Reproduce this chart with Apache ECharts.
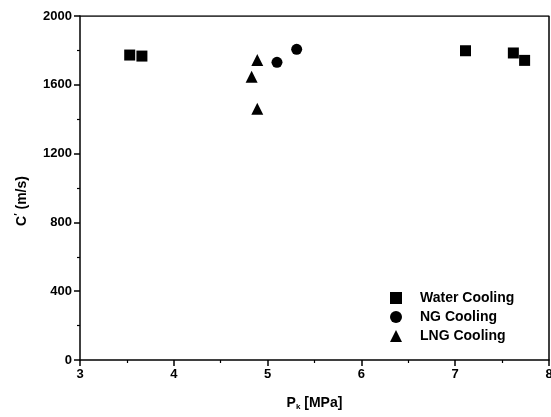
<!DOCTYPE html>
<html>
<head>
<meta charset="utf-8">
<script src="https://cdn.jsdelivr.net/npm/echarts@6/dist/echarts.min.js"></script>
<style>
  html, body { margin: 0; padding: 0; background: #fff; }
  #main { width: 551px; height: 417px; }
</style>
</head>
<body>
<div id="main"></div>
<script>
// data
var waterX = [3.53, 3.66, 7.11, 7.62, 7.74];
var waterY = [1773, 1767, 1798, 1785, 1742];
var ngX = [5.10, 5.31];
var ngY = [1731, 1806];
var lngX = [4.89, 4.83, 4.89];
var lngY = [1744, 1647, 1461];

function pairs(xs, ys) {
    var out = [];
    for (var i = 0; i < xs.length; i++) out.push([xs[i], ys[i]]);
    return out;
}

var font = 'Liberation Sans, Arial, sans-serif';
var myChart = echarts.init(document.getElementById('main'));
myChart.setOption({
    animation: false,
    grid: { left: 80, right: 2, top: 16, bottom: 57, containLabel: false, outerBoundsMode: 'none' },
    legend: {
        orient: 'vertical',
        left: 385,
        top: 286,
        itemWidth: 12,
        itemHeight: 12,
        itemGap: 5,
        textStyle: { fontFamily: font, fontSize: 14, fontWeight: 'bold', color: '#000', padding: [0, 0, 0, 13] },
        data: [
            { name: 'Water Cooling', icon: 'rect' },
            { name: 'NG Cooling', icon: 'circle' },
            { name: 'LNG Cooling', icon: 'triangle' }
        ]
    },
    xAxis: {
        type: 'value', min: 3, max: 8, interval: 1,
        name: '{a|P}{s|k}{a| [MPa]}',
        nameLocation: 'middle', nameGap: 35,
        nameTextStyle: {
            rich: {
                a: { fontFamily: font, fontSize: 14, fontWeight: 'bold', color: '#000' },
                s: { fontFamily: font, fontSize: 8, fontWeight: 'bold', color: '#000', verticalAlign: 'bottom', padding: [8, 0, 0, 0] }
            }
        },
        axisLine: { show: true, onZero: false, lineStyle: { color: '#000', width: 1.5 } },
        axisTick: { show: true, inside: false, length: 6, lineStyle: { color: '#000', width: 1.5 } },
        minorTick: { show: true, splitNumber: 2, length: 3, lineStyle: { color: '#000', width: 1.2 } },
        axisLabel: { fontFamily: font, fontSize: 13, fontWeight: 'bold', color: '#000', margin: 8 },
        splitLine: { show: false }
    },
    yAxis: {
        type: 'value', min: 0, max: 2000, interval: 400,
        name: '{a|C}{p|\u2032}{a| (m/s)}',
        nameLocation: 'middle', nameGap: 50, nameRotate: 90,
        nameTextStyle: {
            padding: [0, 26, 0, 0],
            rich: {
                a: { fontFamily: font, fontSize: 14, fontWeight: 'bold', color: '#000' },
                p: { fontFamily: font, fontSize: 10, fontWeight: 'bold', color: '#000', padding: [0, 0, 6, 0] }
            }
        },
        axisLine: { show: true, onZero: false, lineStyle: { color: '#000', width: 1.5 } },
        axisTick: { show: true, inside: false, length: 6, lineStyle: { color: '#000', width: 1.5 } },
        minorTick: { show: true, splitNumber: 2, length: 3, lineStyle: { color: '#000', width: 1.2 } },
        axisLabel: {
            fontFamily: font, fontSize: 13, fontWeight: 'bold', color: '#000', margin: 8,
            formatter: function (v) { return String(v); }
        },
        splitLine: { show: false }
    },
    series: [
        {
            name: 'Water Cooling', type: 'scatter', symbol: 'rect', symbolSize: 11,
            itemStyle: { color: '#000', opacity: 1 }, data: pairs(waterX, waterY)
        },
        {
            name: 'NG Cooling', type: 'scatter', symbol: 'circle', symbolSize: 11,
            itemStyle: { color: '#000', opacity: 1 }, data: pairs(ngX, ngY)
        },
        {
            name: 'LNG Cooling', type: 'scatter', symbol: 'triangle', symbolSize: 12,
            itemStyle: { color: '#000', opacity: 1 }, data: pairs(lngX, lngY)
        },
        {
            // frame on top and right
            type: 'line', silent: true, symbol: 'none',
            lineStyle: { color: '#000', width: 1.5 },
            data: [[3, 2000], [8, 2000], [8, 0]]
        }
    ]
});
</script>
</body>
</html>
